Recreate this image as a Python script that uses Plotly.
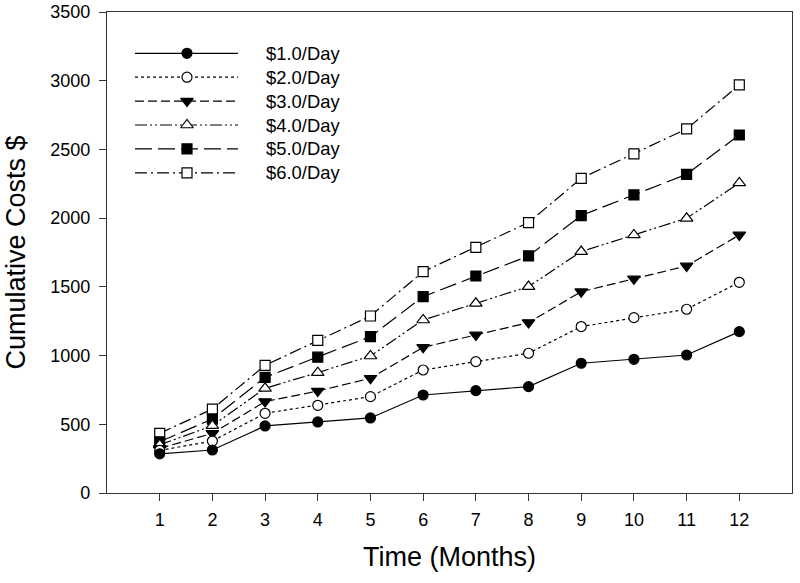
import plotly.graph_objects as go

months = list(range(1, 13))
series_names = ["$1.0/Day", "$2.0/Day", "$3.0/Day", "$4.0/Day", "$5.0/Day", "$6.0/Day"]
cost_1 = [285, 313, 488, 517, 546, 713, 745, 774, 944, 973, 1004, 1174]
cost_2 = [310, 378, 580, 638, 701, 895, 956, 1017, 1211, 1276, 1337, 1533]
cost_3 = [325, 434, 665, 742, 835, 1060, 1150, 1240, 1465, 1558, 1652, 1878]
cost_4 = [350, 490, 762, 876, 997, 1259, 1380, 1502, 1757, 1878, 1999, 2256]
cost_5 = [373, 538, 842, 988, 1138, 1429, 1579, 1725, 2019, 2169, 2319, 2605]
cost_6 = [434, 611, 929, 1111, 1288, 1611, 1788, 1968, 2290, 2467, 2649, 2969]
y_ticks = [0, 500, 1000, 1500, 2000, 2500, 3000, 3500]

all_costs = [cost_1, cost_2, cost_3, cost_4, cost_5, cost_6]

styles = [
    dict(dash="solid", symbol="circle", fill="black"),
    dict(dash="dot", symbol="circle", fill="white"),
    dict(dash="9px,4px", symbol="triangle-down", fill="black"),
    dict(dash="12px,3px,2px,3px,2px,3px", symbol="triangle-up", fill="white"),
    dict(dash="17px,6px", symbol="square", fill="black"),
    dict(dash="12px,4px,2px,4px", symbol="square", fill="white"),
]
msize = {"circle": 10, "triangle-down": 11, "triangle-up": 11, "square": 10}

fig = go.Figure()

# data traces (drawn 6 -> 1 so lower series sits on top)
for i in reversed(range(6)):
    st = styles[i]
    fig.add_trace(go.Scatter(
        x=months, y=all_costs[i], mode="lines+markers", name=series_names[i],
        line=dict(color="black", width=1.2, dash=st["dash"]),
        marker=dict(symbol=st["symbol"], size=msize[st["symbol"]], color=st["fill"],
                    line=dict(color="black", width=1.2)),
        showlegend=False, cliponaxis=False,
    ))

# custom legend on an overlay axis whose units match the plot-area pixels
L_X0, L_X1, L_XM, L_TX = 28, 131, 80, 157
L_Y0, L_DY = 41.3, 23.9
for i in range(6):
    st = styles[i]
    yy = L_Y0 + i * L_DY
    fig.add_trace(go.Scatter(
        x=[L_X0, L_X1], y=[yy, yy], mode="lines", xaxis="x2", yaxis="y2",
        line=dict(color="black", width=1.2, dash=st["dash"]), showlegend=False,
        hoverinfo="skip",
    ))
    fig.add_trace(go.Scatter(
        x=[L_XM], y=[yy], mode="markers", xaxis="x2", yaxis="y2",
        marker=dict(symbol=st["symbol"], size=msize[st["symbol"]], color=st["fill"],
                    line=dict(color="black", width=1.2)),
        showlegend=False, hoverinfo="skip",
    ))
    fig.add_annotation(x=L_TX, y=yy, xref="x2", yref="y2", text=series_names[i],
                       showarrow=False, xanchor="left", yanchor="middle",
                       font=dict(size=18.4, color="black"))

axis_font = dict(family="Liberation Sans, Arial, sans-serif", size=18, color="black")
fig.update_layout(
    width=800, height=583,
    margin=dict(l=107, r=8, t=12, b=90),
    paper_bgcolor="white", plot_bgcolor="white",
    font=dict(family="Liberation Sans, Arial, sans-serif", color="black"),
    xaxis=dict(range=[0, 13], tickvals=months, ticks="outside", ticklen=7,
               tickcolor="#333", linecolor="#333", linewidth=1.2, mirror=True,
               showgrid=False, zeroline=False, tickfont=axis_font, automargin=False,
               ticklabelstandoff=3,
               title=dict(text="Time (Months)", font=dict(size=27), standoff=18)),
    yaxis=dict(range=[0, 3500], tickvals=y_ticks, ticks="outside", ticklen=7,
               tickcolor="#333", linecolor="#333", linewidth=1.2, mirror=True,
               showgrid=False, zeroline=False, tickfont=axis_font, automargin=False,
               ticklabelstandoff=5,
               title=dict(text="Cumulative Costs $", font=dict(size=27), standoff=16)),
    xaxis2=dict(overlaying="x", range=[0, 685], visible=False, fixedrange=True),
    yaxis2=dict(overlaying="y", range=[481, 0], visible=False, fixedrange=True),
    showlegend=False,
)

fig.write_html("out.html", config={"displayModeBar": False},
               post_script="document.body.style.margin='0';")
